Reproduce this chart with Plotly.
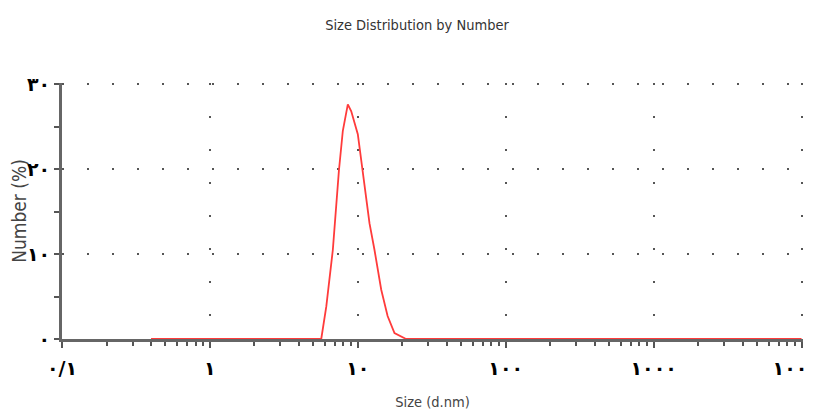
import plotly.graph_objects as go

# Data (size in d.nm, number in %)
sizes = [0.4, 5.66, 6.12, 6.78, 7.45, 7.92, 8.56, 9.03, 10.0, 10.8, 12.0, 12.96, 14.4, 15.9, 17.7, 21.2, 10000]
number = [0, 0, 3.8, 10.5, 19.8, 24.5, 27.6, 26.8, 24.1, 19.8, 13.6, 10.5, 5.8, 2.7, 0.7, 0, 0]

x_tickvals = [0.1, 1, 10, 100, 1000, 10000]
x_ticktext = ["۰/۱", "۱", "۱۰", "۱۰۰", "۱۰۰۰", "۱۰۰۰۰"]
y_tickvals = [0, 10, 20, 30]
y_ticktext = ["۰", "۱۰", "۲۰", "۳۰"]

narrow = "DejaVu Sans Condensed, Liberation Sans Narrow, sans-serif"
digits_font = dict(family="DejaVu Sans", size=19, color="black", weight="bold")

fig = go.Figure()
fig.add_trace(go.Scatter(
    x=sizes, y=number, mode="lines",
    line=dict(color="#ff3b3b", width=1.8),
    showlegend=False, cliponaxis=False,
))

fig.update_layout(
    width=818, height=412,
    margin=dict(l=54, r=23, t=75, b=81),
    paper_bgcolor="white", plot_bgcolor="white",
    title=dict(text="Size Distribution by Number", x=0.5, xanchor="center",
               y=0.959, yanchor="middle",
               font=dict(family=narrow, size=14.5, color="#333")),
    xaxis=dict(
        type="log", range=[-1, 4.01], automargin=False,
        tickvals=x_tickvals, ticktext=x_ticktext,
        tickfont=digits_font, ticklabelstandoff=4, ticklabeloverflow="allow",
        showline=True, linewidth=3, linecolor="#666",
        ticks="outside", ticklen=6, tickwidth=1.5, tickcolor="#555",
        showgrid=True, gridcolor="#555", gridwidth=2, griddash="2px,31px",
        zeroline=False,
        minor=dict(dtick="D1", ticks="outside", ticklen=4, tickwidth=1.5,
                   tickcolor="#555", showgrid=False),
        title=dict(text="Size (d.nm)", standoff=20,
                   font=dict(family=narrow, size=14.5, color="#444")),
    ),
    yaxis=dict(
        range=[0, 30.12], automargin=False,
        tickvals=y_tickvals, ticktext=y_ticktext,
        tickfont=digits_font, ticklabeloverflow="allow",
        showline=True, linewidth=3, linecolor="#666",
        ticks="outside", ticklen=5, tickwidth=2, tickcolor="#555",
        showgrid=True, gridcolor="#555", gridwidth=2, griddash="2px,23px",
        zeroline=False,
        minor=dict(dtick=5, ticks="outside", ticklen=5, tickwidth=2, tickcolor="#555",
                   showgrid=False),
        title=dict(text="Number (%)", standoff=4,
                   font=dict(family=narrow, size=19, color="#444")),
    ),
)

fig.write_html("out.html")
